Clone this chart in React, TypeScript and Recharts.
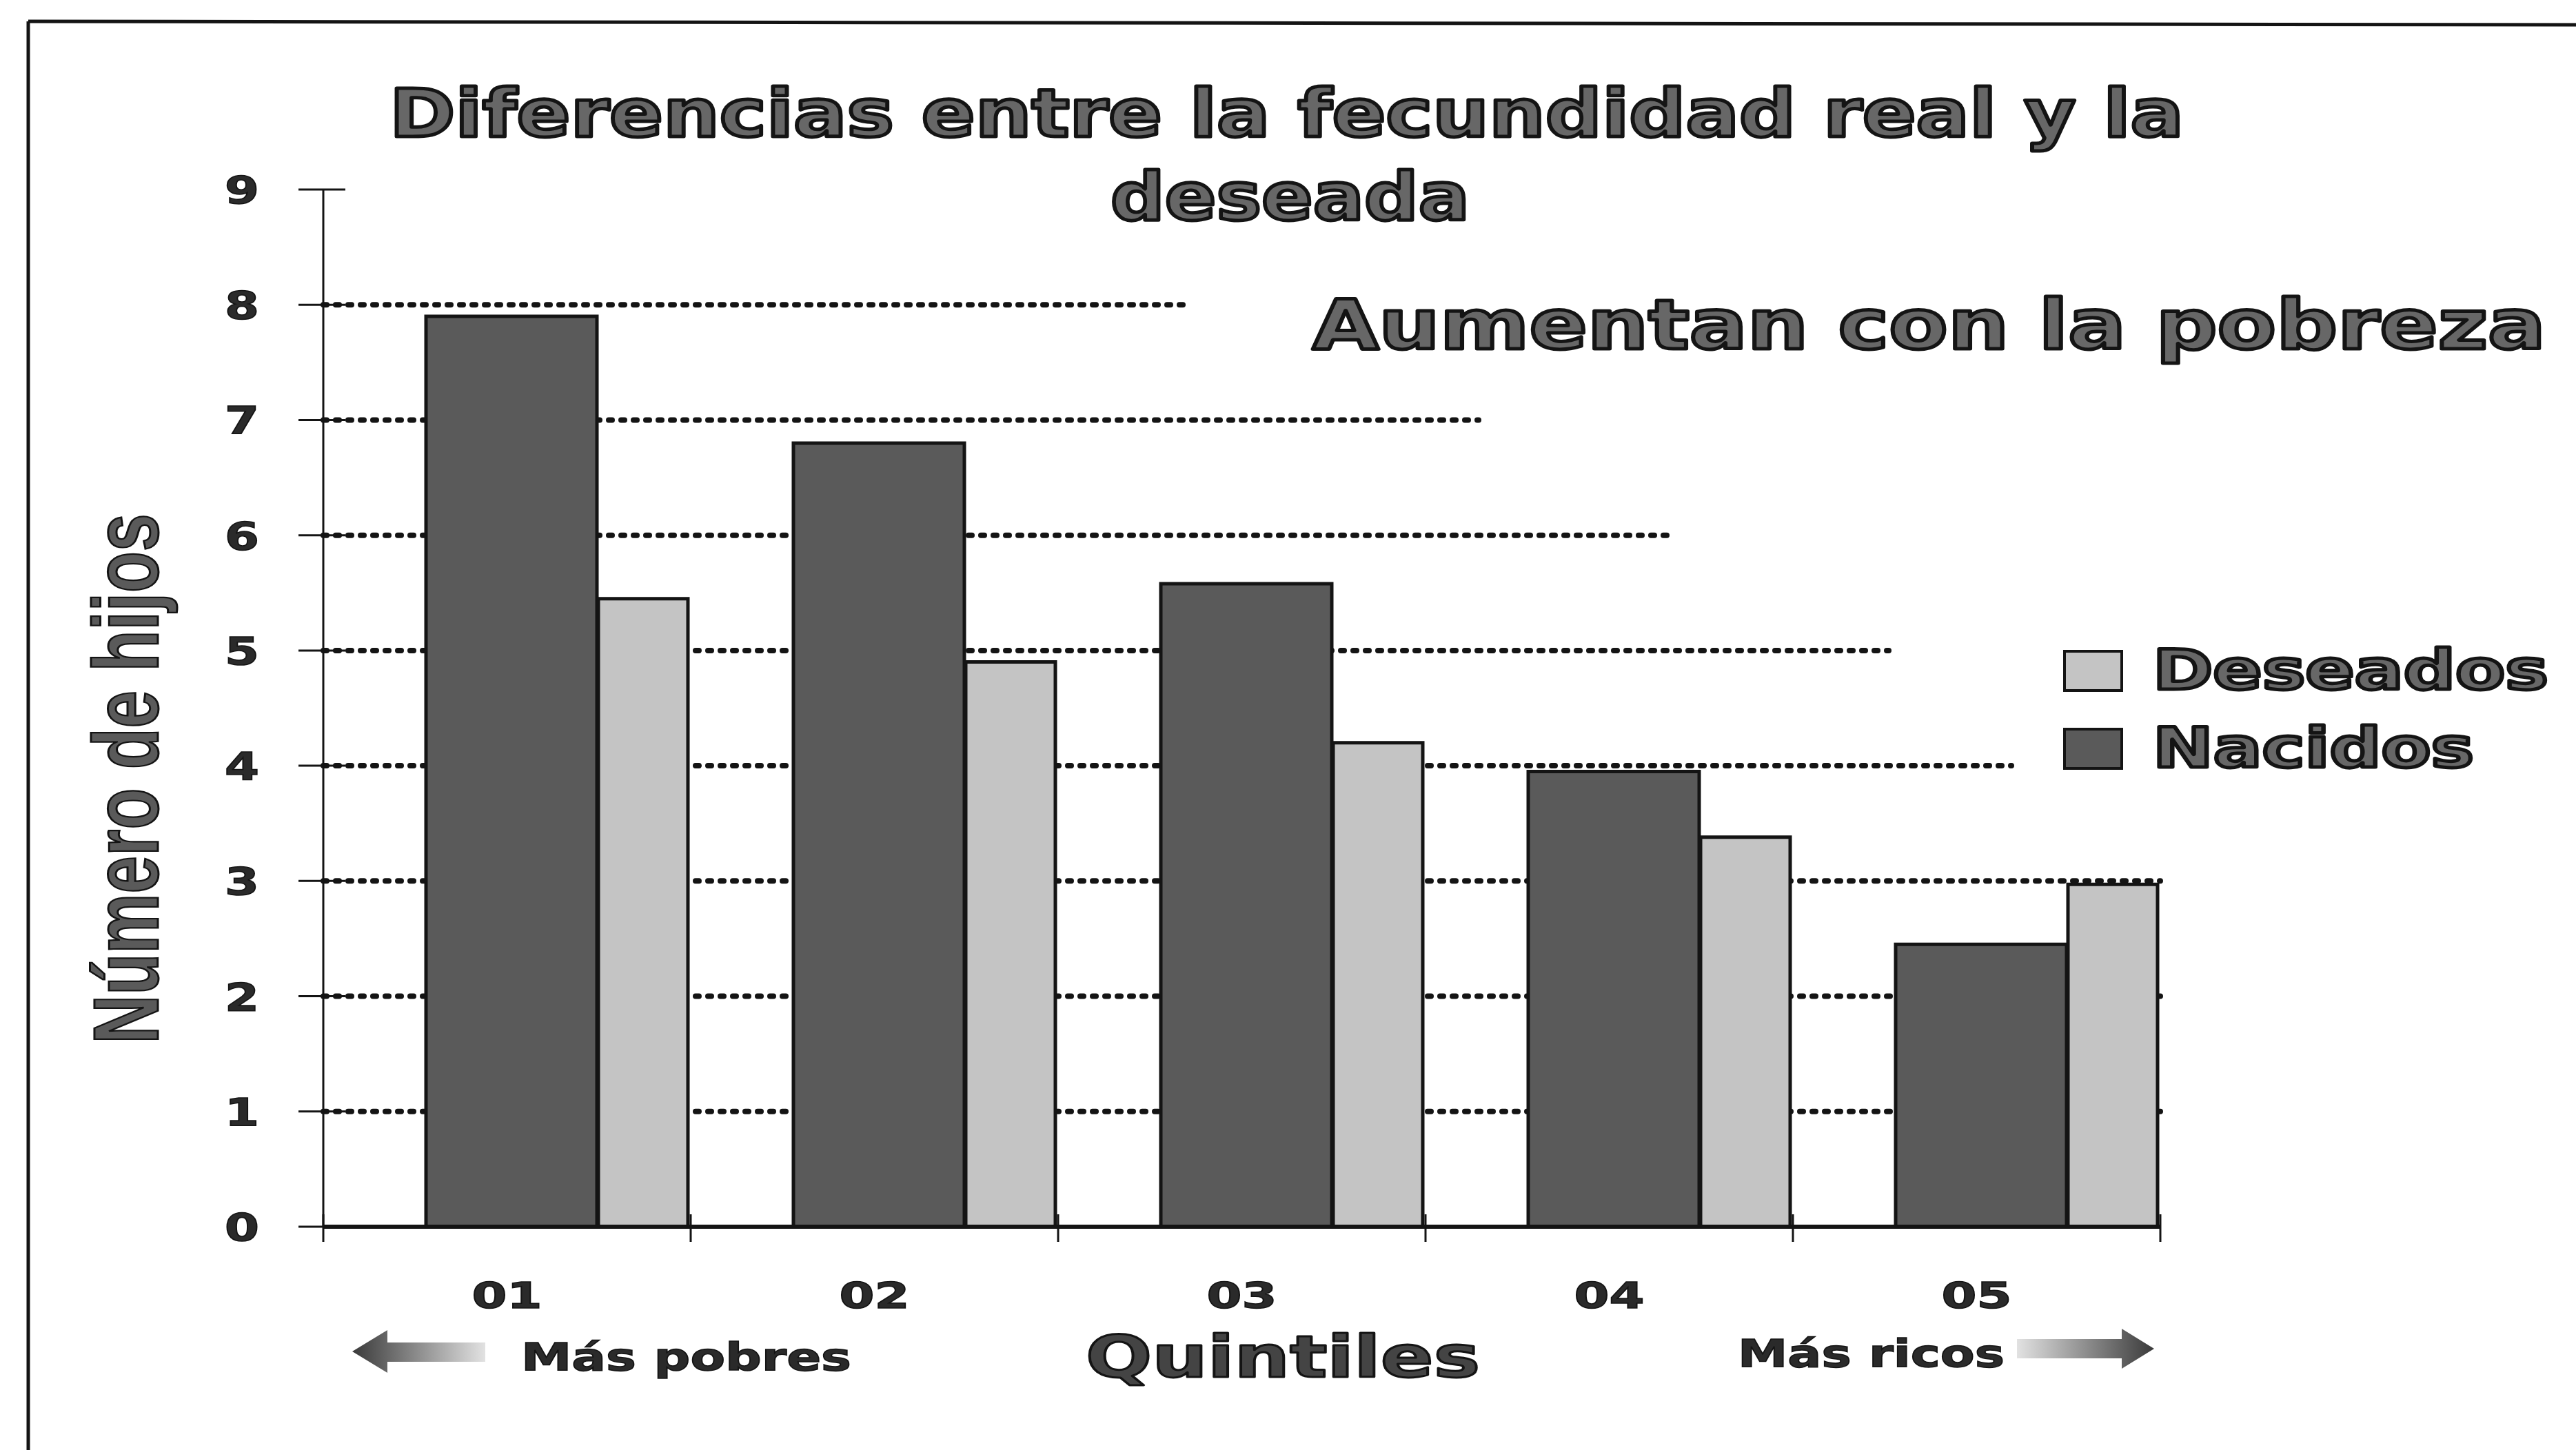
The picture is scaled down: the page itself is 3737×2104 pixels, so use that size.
import React from 'react';
import { BarChart, Bar, XAxis, YAxis, CartesianGrid, Legend, Rectangle } from 'recharts';

// values
const quintiles = ['01', '02', '03', '04', '05'];
const nacidos = [7.9, 6.8, 5.58, 3.95, 2.45];
const deseados = [5.45, 4.9, 4.2, 3.38, 2.97];
const yTicks = [0, 1, 2, 3, 4, 5, 6, 7, 8, 9];
const legendOrder = ['Deseados', 'Nacidos'];

const data = quintiles.map((q, i) => ({ q, nacidos: nacidos[i], deseados: deseados[i] }));

const W = 3737;
const H = 2104;
const PLOT = { left: 469, top: 275, right: 3134, bottom: 1780 };
const BAR_SHIFT = 72; // bars sit to the right of the quintile label in the original
// where each dotted gridline stops (the upper ones are cut short by the notes)
const GRID_END: Record<number, number> = { 4: 2918, 5: 2740, 6: 2431, 7: 2145, 8: 1728 };
const LEGEND_LEN: Record<string, number> = { Deseados: 574, Nacidos: 466 };

const DARK = '#5a5a5a';
const LIGHT = '#c4c4c4';
const INK = '#141414';
const FONT = "'DejaVu Sans', Verdana, sans-serif";

const outlined = {
  fontFamily: FONT,
  fontWeight: 'bold' as const,
  fill: '#676767',
  stroke: INK,
  strokeWidth: 5,
  strokeLinejoin: 'round' as const,
};

const GridLine = (props: any) => {
  const { x1, x2, y1 } = props;
  const v = Math.round((9 * (PLOT.bottom - y1)) / (PLOT.bottom - PLOT.top));
  if (v <= 0 || v >= 9) return <g key={props.key} />;
  const end = Math.min(GRID_END[v] ?? x2, x2);
  return (
    <line
      key={props.key}
      x1={x1}
      y1={y1}
      x2={end}
      y2={y1}
      stroke={INK}
      strokeWidth={8}
      strokeDasharray="5 13"
      strokeLinecap="round"
    />
  );
};

const XTick = (props: any) => {
  const { x, y, payload, index } = props;
  const half = payload?.offset ?? (PLOT.right - PLOT.left) / 10;
  return (
    <g>
      {index === 0 && (
        <line x1={x - half} x2={x - half} y1={y - 18} y2={y + 22} stroke={INK} strokeWidth={3} />
      )}
      <line x1={x + half} x2={x + half} y1={y - 18} y2={y + 22} stroke={INK} strokeWidth={3} />
      <text
        x={x}
        y={y + 118}
        textAnchor="middle"
        fontFamily={FONT}
        fontWeight="bold"
        fontSize={52}
        fill="#2a2a2a"
        stroke={INK}
        strokeWidth={1.5}
        textLength={102}
        lengthAdjust="spacingAndGlyphs"
      >
        {payload.value}
      </text>
    </g>
  );
};

const YTick = (props: any) => {
  const { x, y, payload } = props;
  return (
    <g>
      <line x1={x - 36} x2={x + 32} y1={y} y2={y} stroke={INK} strokeWidth={3} />
      <text
        x={x - 93}
        y={y + 20}
        textAnchor="end"
        fontFamily={FONT}
        fontWeight="bold"
        fontSize={55}
        fill="#2a2a2a"
        stroke={INK}
        strokeWidth={1.5}
        textLength={50}
        lengthAdjust="spacingAndGlyphs"
      >
        {payload.value}
      </text>
    </g>
  );
};

const shiftedBar = (props: any) => <Rectangle {...props} x={props.x + BAR_SHIFT} />;

const LegendBox = ({ payload }: any) => {
  const items = [...(payload ?? [])].sort(
    (a: any, b: any) => legendOrder.indexOf(a.value) - legendOrder.indexOf(b.value),
  );
  return (
    <svg width={740} height={210}>
      {items.map((it: any, i: number) => (
        <g key={it.value} transform={`translate(0, ${i * 113})`}>
          <rect x={10} y={20} width={83} height={57} fill={it.color} stroke={INK} strokeWidth={4} />
          <text
            x={138}
            y={75}
            fontSize={80}
            {...outlined}
            textLength={LEGEND_LEN[it.value]}
            lengthAdjust="spacingAndGlyphs"
          >
            {it.value}
          </text>
        </g>
      ))}
    </svg>
  );
};

export default function App() {
  return (
    <div style={{ position: 'absolute', left: 0, top: 0, width: W, height: H, background: '#fff' }}>
      <BarChart
        width={W}
        height={H}
        data={data}
        margin={{ top: PLOT.top, right: W - PLOT.right, bottom: 0, left: 0 }}
        barGap={2}
      >
        <CartesianGrid vertical={false} horizontal={GridLine} />
        <XAxis
          dataKey="q"
          height={H - PLOT.bottom}
          interval={0}
          axisLine={{ stroke: INK, strokeWidth: 6 }}
          tickLine={false}
          tickSize={0}
          tickMargin={0}
          tick={<XTick />}
        />
        <YAxis
          width={PLOT.left}
          domain={[0, 9]}
          ticks={yTicks}
          interval={0}
          axisLine={{ stroke: INK, strokeWidth: 3 }}
          tickLine={false}
          tickSize={0}
          tickMargin={0}
          tick={<YTick />}
        />
        <Legend
          layout="vertical"
          align="center"
          verticalAlign="middle"
          content={<LegendBox />}
          wrapperStyle={{ left: 2985, top: 925, width: 740, height: 210 }}
        />
        <Bar
          dataKey="nacidos"
          name="Nacidos"
          fill={DARK}
          stroke={INK}
          strokeWidth={5}
          barSize={248}
          shape={shiftedBar}
          isAnimationActive={false}
        />
        <Bar
          dataKey="deseados"
          name="Deseados"
          fill={LIGHT}
          stroke={INK}
          strokeWidth={5}
          barSize={130}
          shape={shiftedBar}
          isAnimationActive={false}
        />
      </BarChart>

      <svg
        width={W}
        height={H}
        style={{ position: 'absolute', left: 0, top: 0, pointerEvents: 'none' }}
      >
        <defs>
          <linearGradient id="toLeft" x1="0" x2="1" y1="0" y2="0">
            <stop offset="0" stopColor="#3a3a3a" />
            <stop offset="1" stopColor="#e2e2e2" />
          </linearGradient>
          <linearGradient id="toRight" x1="0" x2="1" y1="0" y2="0">
            <stop offset="0" stopColor="#e2e2e2" />
            <stop offset="1" stopColor="#3a3a3a" />
          </linearGradient>
        </defs>

        {/* frame */}
        <line x1={41} y1={31} x2={W} y2={36} stroke={INK} strokeWidth={5} />
        <line x1={41} y1={31} x2={41} y2={H} stroke={INK} strokeWidth={5} />

        <text x={565} y={198} fontSize={96} {...outlined} textLength={2603} lengthAdjust="spacingAndGlyphs">
          Diferencias entre la fecundidad real y la
        </text>
        <text x={1611} y={319} fontSize={96} {...outlined} textLength={521} lengthAdjust="spacingAndGlyphs">
          deseada
        </text>
        <text x={1904} y={506} fontSize={100} {...outlined} textLength={1789} lengthAdjust="spacingAndGlyphs">
          Aumentan con la pobreza
        </text>

        <text
          transform="translate(229, 1130) rotate(-90)"
          textAnchor="middle"
          fontFamily="'Liberation Sans Narrow', 'Liberation Sans', Arial, sans-serif"
          fontWeight="bold"
          fontSize={134}
          fill="#5a5a5a"
          stroke={INK}
          strokeWidth={3}
          textLength={769}
          lengthAdjust="spacingAndGlyphs"
        >
          Número de hijos
        </text>

        <polygon
          points="511,1961 562,1930 562,1948 704,1948 704,1976 562,1976 562,1992"
          fill="url(#toLeft)"
        />
        <text
          x={756}
          y={1988}
          fontFamily={FONT}
          fontWeight="bold"
          fontSize={56}
          fill="#2a2a2a"
          stroke={INK}
          strokeWidth={1.5}
          textLength={479}
          lengthAdjust="spacingAndGlyphs"
        >
          Más pobres
        </text>
        <text
          x={1575}
          y={1998}
          fontSize={84}
          {...outlined}
          fill="#444"
          strokeWidth={3}
          textLength={572}
          lengthAdjust="spacingAndGlyphs"
        >
          Quintiles
        </text>
        <text
          x={2521}
          y={1983}
          fontFamily={FONT}
          fontWeight="bold"
          fontSize={56}
          fill="#2a2a2a"
          stroke={INK}
          strokeWidth={1.5}
          textLength={387}
          lengthAdjust="spacingAndGlyphs"
        >
          Más ricos
        </text>
        <polygon
          points="2926,1943 3078,1943 3078,1928 3125,1957 3078,1986 3078,1971 2926,1971"
          fill="url(#toRight)"
        />
      </svg>
    </div>
  );
}
